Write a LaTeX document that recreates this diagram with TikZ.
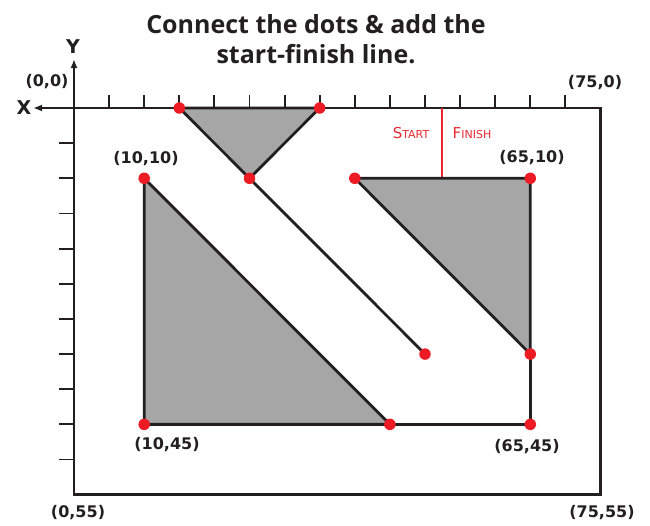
\documentclass[tikz,border=0pt]{standalone}
\usepackage{fontspec}
\setmainfont{Open Sans}
\newfontfamily\lblfont{DejaVu Sans}
\usetikzlibrary{arrows.meta}
\definecolor{shadegray}{RGB}{166,166,166}
\definecolor{dotred}{RGB}{237,28,36}
\definecolor{sfred}{RGB}{232,40,48}
\definecolor{ink}{RGB}{35,31,32}
\begin{document}
\begin{tikzpicture}[x=1pt,y=-1pt,
  region/.style={fill=shadegray, draw=ink, line width=2.8pt, line join=round},
  seg/.style={draw=ink, line width=2.8pt, line cap=round},
  framel/.style={draw=ink, line width=2.4pt},
  tickmk/.style={draw=ink, line width=1.9pt},
  axisarrow/.style={draw=ink, line width=2.4pt, -{Latex[length=9pt,width=7pt]}},
  dot/.style={circle, fill=dotred, inner sep=0pt, minimum size=11.5pt},
  lbl/.style={font=\lblfont\bfseries\fontsize{16}{16}\selectfont, text=ink, inner sep=0pt},
  axlbl/.style={font=\lblfont\bfseries\fontsize{19}{19}\selectfont, text=ink, inner sep=0pt},
  sflbl/.style={font=\lblfont\fontsize{15}{15}\selectfont, text=sfred, inner sep=0pt},
  titlefont/.style={font=\bfseries\fontsize{25}{30}\selectfont, text=ink, inner sep=0pt, anchor=base},
  finishline/.style={draw=sfred, line width=2.2pt},
]
\useasboundingbox (0,0) rectangle (650,525);
\node[titlefont] (title1) at (316,33) {Connect the dots \& add the};
\node[titlefont] (title2) at (316,63) {start-finish line.};
\node[axlbl] (xl) at (24,108) {X};
\node[axlbl] (yl) at (73,47) {Y};
\begin{scope}[shift={(74,108)}, x=7.02pt, y=-7.03pt]
  \coordinate (O) at (0,0);
  \coordinate (BR) at (75,55);
  \coordinate (xtip) at (-5.84,0);
  \coordinate (ytip) at (0,-6.97);
  \draw[framel] (O) rectangle (BR);
  \draw[axisarrow] (O) -- (xtip);
  \draw[axisarrow] (O) -- (ytip);
  \foreach \u in {5,10,...,70} \draw[tickmk] (\u,0) -- (\u,-1.85);
  \foreach \v in {5,10,...,50} \draw[tickmk] (0,\v) -- (-2.14,\v);
  \coordinate (t1) at (15,0);
  \coordinate (t2) at (35,0);
  \coordinate (t3) at (25,10);
  \coordinate (l1) at (10,10);
  \coordinate (l2) at (10,45);
  \coordinate (l3) at (45,45);
  \coordinate (r1) at (40,10);
  \coordinate (r2) at (65,10);
  \coordinate (r3) at (65,35);
  \coordinate (r4) at (65,45);
  \coordinate (e) at (50,35);
  \coordinate (s1) at (52.4,0);
  \coordinate (s2) at (52.4,10);
  \draw[finishline] (s1) -- (s2);
  \draw[region] (t1) -- (t2) -- (t3) -- cycle;
  \draw[region] (l1) -- (l2) -- (l3) -- cycle;
  \draw[region] (r1) -- (r2) -- (r3) -- cycle;
  \draw[seg] (t3) -- (e);
  \draw[seg] (r3) -- (r4) -- (l3);
  \foreach \p in {t1,t2,t3,l1,l2,l3,r1,r2,r3,r4,e} \node[dot] (d\p) at (\p) {};
\end{scope}
\node[sflbl] (startl) at (411,133) {S{\fontsize{11}{11}\selectfont TART}};
\node[sflbl] (finishl) at (472,133) {F{\fontsize{11}{11}\selectfont INISH}};
\node[lbl] (c00) at (47,82) {(0,0)};
\node[lbl] (c750) at (595,83) {(75,0)};
\node[lbl] (c1010) at (146,159) {(10,10)};
\node[lbl] (c6510) at (532,158) {(65,10)};
\node[lbl] (c1045) at (167,445) {(10,45)};
\node[lbl] (c6545) at (527,447) {(65,45)};
\node[lbl] (c055) at (78,513) {(0,55)};
\node[lbl] (c7555) at (602,513) {(75,55)};
\end{tikzpicture}
\end{document}
